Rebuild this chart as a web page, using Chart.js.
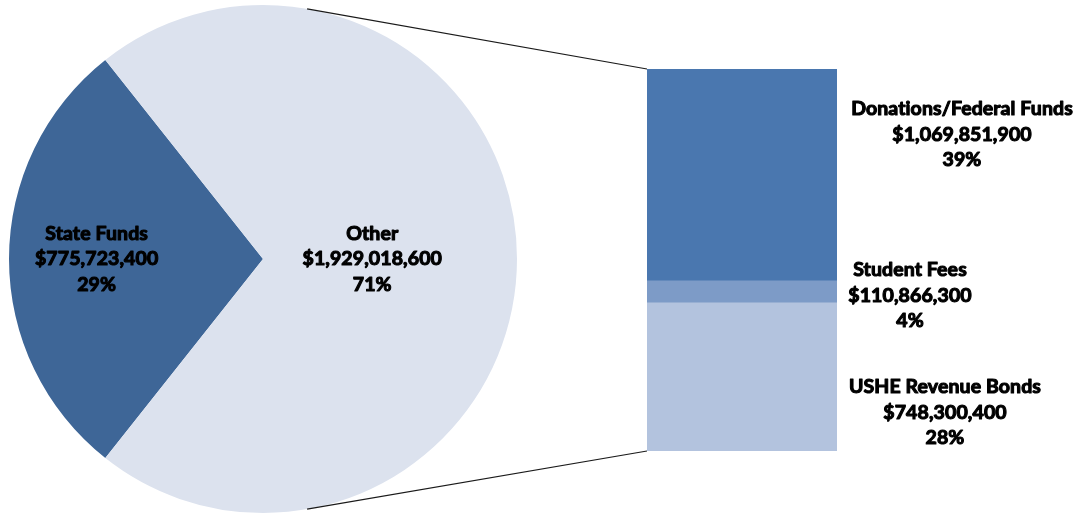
<!DOCTYPE html>
<html lang="en">
<head>
    <meta charset="UTF-8">
    <title>Funding Sources</title>
    <script src="https://cdn.jsdelivr.net/npm/chart.js"></script>
    <style>
        html, body {
            margin: 0;
            padding: 0;
            background: #ffffff;
        }
        #wrap {
            position: relative;
            width: 1078px;
            height: 516px;
        }
        #wrap canvas {
            position: absolute;
            left: 0;
            top: 0;
        }
    </style>
</head>
<body>
    <div id="wrap">
        <canvas id="pieChart" width="1078" height="516"></canvas>
        <canvas id="barChart" width="1078" height="516"></canvas>
    </div>
    <script>
        // pie: state funds vs everything else
        const pieLabels = ['State Funds', 'Other'];
        const pieValues = [775723400, 1929018600];
        const piePercents = ['29%', '71%'];
        const pieColors = ['#3e6697', '#dce2ee'];

        // breakdown of "Other", stacked bottom to top
        const barLabels = ['USHE Revenue Bonds', 'Student Fees', 'Donations/Federal Funds'];
        const barValues = [748300400, 110866300, 1069851900];
        const barPercents = ['28%', '4%', '39%'];
        const barColors = ['#b3c3de', '#7d9bc7', '#4a77af'];

        const FONT = 'bold 19.5px Lato, "Liberation Sans", sans-serif';
        const LINE_H = 25.5;

        function money(v) {
            return '$' + v.toLocaleString('en-US');
        }

        function drawLines(ctx, lines, x, y) {
            ctx.save();
            ctx.font = FONT;
            ctx.letterSpacing = '0.1px'; // stops the "ti" ligature
            ctx.fillStyle = '#000';
            ctx.strokeStyle = '#000';
            ctx.lineWidth = 1.1;
            ctx.lineJoin = 'round';
            ctx.textAlign = 'center';
            ctx.textBaseline = 'middle';
            lines.forEach((t, i) => {
                ctx.fillText(t, x, y + i * LINE_H);
                ctx.strokeText(t, x, y + i * LINE_H);
            });
            ctx.restore();
        }

        // how far out from the centre each pie label sits (fraction of radius)
        const pieLabelRadius = [0.655, 0.43];

        const pieLabelPlugin = {
            id: 'pieLabels',
            afterDatasetsDraw(chart) {
                const ctx = chart.ctx;
                chart.getDatasetMeta(0).data.forEach((arc, i) => {
                    const mid = (arc.startAngle + arc.endAngle) / 2;
                    const r = arc.outerRadius * pieLabelRadius[i];
                    const x = arc.x + Math.cos(mid) * r;
                    const y = arc.y + Math.sin(mid) * r;
                    drawLines(ctx, [pieLabels[i], money(pieValues[i]), piePercents[i]], x, y - LINE_H);
                });
            }
        };

        const stateShare = pieValues[0] / (pieValues[0] + pieValues[1]);

        const pieChart = new Chart(document.getElementById('pieChart'), {
            type: 'pie',
            data: {
                labels: pieLabels,
                datasets: [{
                    data: pieValues,
                    backgroundColor: pieColors,
                    borderWidth: 0
                }]
            },
            options: {
                responsive: false,
                animation: false,
                // keep the state funds slice centred on the left side
                rotation: 270 - stateShare * 180,
                layout: { padding: { left: 9, right: 561, top: 5, bottom: 3 } },
                plugins: {
                    legend: { display: false },
                    tooltip: { enabled: false }
                }
            },
            plugins: [pieLabelPlugin]
        });

        // label offsets from each segment's top-right corner: [dx, dy]
        const barLabelOffsets = [[108, 84], [73, -11], [125, 40]];

        const barExtrasPlugin = {
            id: 'barExtras',
            beforeDatasetsDraw(chart) {
                // connector lines from the pie edge to the bar corners
                const arc = pieChart.getDatasetMeta(0).data[0];
                const a = 10 * Math.PI / 180;
                const sx = arc.x + Math.sin(a) * arc.outerRadius;
                const dy = Math.cos(a) * arc.outerRadius;
                const area = chart.chartArea;
                const ctx = chart.ctx;
                ctx.save();
                ctx.strokeStyle = '#1a1a1a';
                ctx.lineWidth = 1.2;
                ctx.beginPath();
                ctx.moveTo(sx, arc.y - dy);
                ctx.lineTo(area.left, area.top);
                ctx.moveTo(sx, arc.y + dy);
                ctx.lineTo(area.left, area.bottom);
                ctx.stroke();
                ctx.restore();
            },
            afterDatasetsDraw(chart) {
                const ctx = chart.ctx;
                barValues.forEach((v, i) => {
                    const bar = chart.getDatasetMeta(i).data[0];
                    const right = bar.x + bar.width / 2;
                    const top = bar.y;
                    const off = barLabelOffsets[i];
                    drawLines(ctx, [barLabels[i], money(v), barPercents[i]], right + off[0], top + off[1]);
                });
            }
        };

        const otherTotal = barValues.reduce((s, v) => s + v, 0);

        new Chart(document.getElementById('barChart'), {
            type: 'bar',
            data: {
                labels: ['Other'],
                datasets: barValues.map((v, i) => ({
                    label: barLabels[i],
                    data: [v],
                    backgroundColor: barColors[i],
                    borderWidth: 0,
                    barPercentage: 1,
                    categoryPercentage: 1
                }))
            },
            options: {
                responsive: false,
                animation: false,
                layout: { padding: { left: 647, right: 241, top: 69, bottom: 65 } },
                scales: {
                    x: { stacked: true, display: false },
                    y: { stacked: true, display: false, min: 0, max: otherTotal }
                },
                plugins: {
                    legend: { display: false },
                    tooltip: { enabled: false }
                }
            },
            plugins: [barExtrasPlugin]
        });
    </script>
</body>
</html>
